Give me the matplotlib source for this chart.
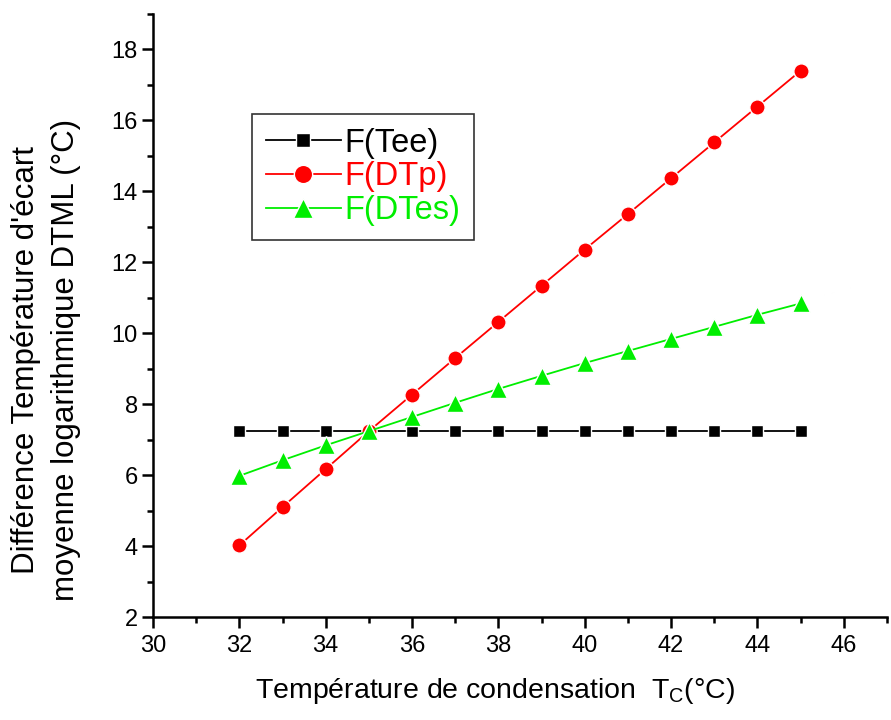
import matplotlib
matplotlib.use("Agg")
import matplotlib.pyplot as plt
from matplotlib.ticker import MultipleLocator

plt.rcParams['font.family'] = ['Liberation Sans', 'DejaVu Sans']
plt.rcParams['mathtext.fontset'] = 'custom'
plt.rcParams['mathtext.rm'] = 'Liberation Sans'

# Condensation temperature (°C)
tc = [32, 33, 34, 35, 36, 37, 38, 39, 40, 41, 42, 43, 44, 45]
# Log mean temperature difference DTML (°C) for each case
f_tee = [7.24] * 14
f_dtp = [4.02, 5.10, 6.17, 7.24, 8.27, 9.30, 10.32, 11.34, 12.36, 13.36,
         14.37, 15.38, 16.39, 17.40]
f_dtes = [5.98, 6.42, 6.84, 7.24, 7.64, 8.04, 8.43, 8.80, 9.16, 9.50,
          9.84, 10.18, 10.52, 10.84]

green = '#00ee00'

fig = plt.figure(figsize=(8.91, 7.2), dpi=100)
ax = fig.add_axes([0.1717, 0.143, 0.8238, 0.8376])

ax.plot(tc, f_tee, color='black', lw=1.3, marker='s', ms=8.5,
        mec='white', mew=1.0, mfc='black', label='F(Tee)')
ax.plot(tc, f_dtp, color='red', lw=1.3, marker='o', ms=11,
        mec='white', mew=1.0, mfc='red', label='F(DTp)')
ax.plot(tc, f_dtes, color=green, lw=1.3, marker='^', ms=12.5,
        mec='white', mew=1.0, mfc=green, label='F(DTes)')

ax.set_xlim(30, 47)
ax.set_ylim(2, 19)
ax.xaxis.set_major_locator(MultipleLocator(2))
ax.xaxis.set_minor_locator(MultipleLocator(1))
ax.yaxis.set_major_locator(MultipleLocator(2))
ax.yaxis.set_minor_locator(MultipleLocator(1))

for side in ('top', 'right'):
    ax.spines[side].set_visible(False)
for side in ('left', 'bottom'):
    ax.spines[side].set_linewidth(1.8)

ax.tick_params(which='major', direction='out', length=8, width=1.8,
               labelsize=17)
ax.tick_params(axis='x', which='major', pad=5)
ax.tick_params(axis='y', which='major', pad=3)
ax.tick_params(which='minor', direction='out', length=4.5, width=1.8)

ax.set_xlabel('Température de condensation  T$_\\mathregular{C}$(°C)',
              fontsize=20.5)
ax.xaxis.set_label_coords(0.4665, -0.098)
ax.set_ylabel("Différence Température d'écart\nmoyenne logarithmique DTML (°C)",
              fontsize=22.5, linespacing=1.45)
ax.yaxis.set_label_coords(-0.098, 0.426)

leg = ax.legend(loc='upper left', bbox_to_anchor=(252 / 891, 1 - 114 / 720),
                bbox_transform=fig.transFigure, fontsize=23.5, frameon=True,
                fancybox=False, shadow=False, edgecolor='black',
                handlelength=2.3, borderpad=0.42, labelspacing=0.08,
                handletextpad=0.1, borderaxespad=0, markerscale=1.2)
leg.get_frame().set_linewidth(1.2)
for txt, c in zip(leg.get_texts(), ['black', 'red', green]):
    txt.set_color(c)

fig.savefig('out.png', dpi=100)
